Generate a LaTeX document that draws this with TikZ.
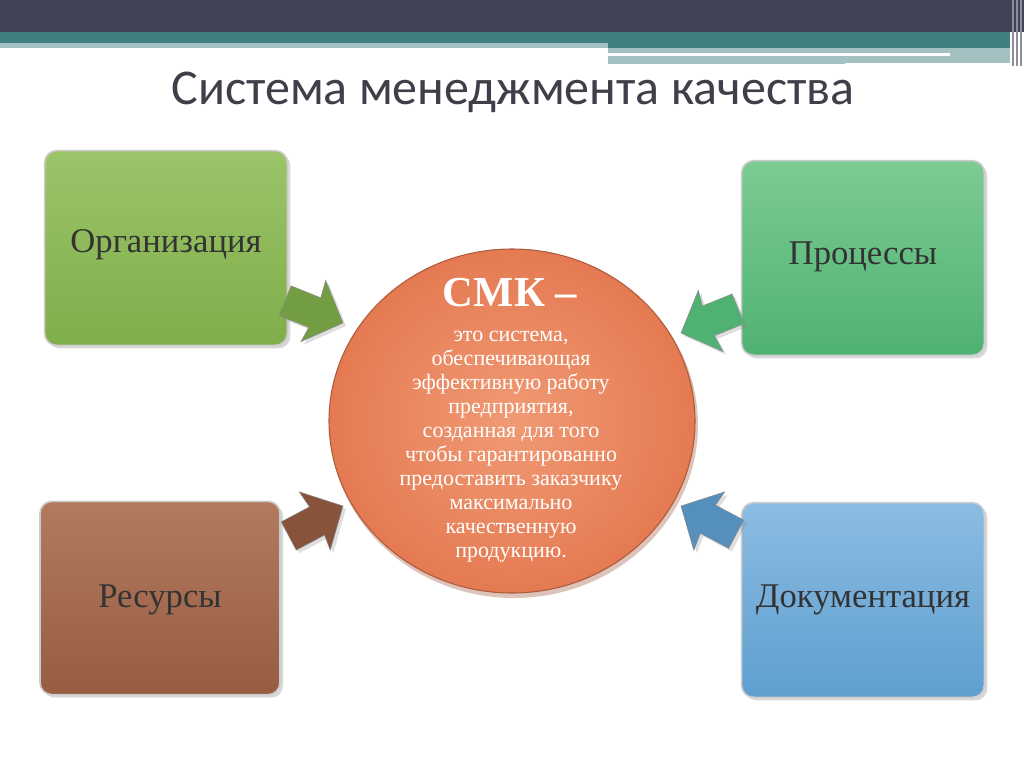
\documentclass[tikz,border=0pt]{standalone}
\usepackage{fontspec}
\setmainfont{Liberation Serif}
\newfontfamily\titlefont{Carlito}
\usetikzlibrary{shadows}
\definecolor{darkbar}{HTML}{404255}
\definecolor{tealbar}{HTML}{3F7F80}
\definecolor{paleteal}{HTML}{A3C0C2}
\definecolor{gOrg}{HTML}{7FAE4A}
\definecolor{gOrgL}{HTML}{9CC469}
\definecolor{gProc}{HTML}{4FB272}
\definecolor{gProcL}{HTML}{7CCB93}
\definecolor{bRes}{HTML}{975C42}
\definecolor{bResL}{HTML}{B27B60}
\definecolor{bDoc}{HTML}{5E9FD0}
\definecolor{bDocL}{HTML}{8CBCE2}
\definecolor{circ}{HTML}{E57A52}
\definecolor{circL}{HTML}{F09A74}
\definecolor{titlec}{HTML}{3F3F4A}
\begin{document}
\begin{tikzpicture}[x=0.75pt,y=-0.75pt,
  boxs/.style={rounded corners=9pt,draw=white!80!black,line width=1.2pt,drop shadow={opacity=0.3}},
  btext/.style={font=\fontsize{26}{30}\selectfont,text=black!80},
  arr/.style={draw=white!55!black,line width=0.4pt,drop shadow={opacity=0.25}}]
\useasboundingbox (0,0) rectangle (1024,767);
\fill[white] (0,0) rectangle (1024,767);
% top bars
\fill[darkbar] (0,0) rectangle (1024,32);
\fill[tealbar] (0,32) rectangle (1010,48);
\fill[paleteal] (0,43) rectangle (608,48);
\fill[paleteal] (608,48) rectangle (1010,64);
\fill[white] (608,53) rectangle (950,56);
\fill[white] (845,63) rectangle (1010,66);
\foreach \xx in {1012,1016,1020} \fill[darkbar!60] (\xx,0) rectangle (\xx+1.5,66);
\node[font=\titlefont\fontsize{37.5}{40}\selectfont,text=titlec] (title) at (513,92) {Система менеджмента качества};
% boxes
\node[boxs,top color=gOrgL,bottom color=gOrg,minimum width=182pt,minimum height=146pt] (org) at (166,248) {};
\node[btext] at (166,245) {Организация};
\node[boxs,top color=gProcL,bottom color=gProc,minimum width=182pt,minimum height=146pt] (proc) at (863,258) {};
\node[btext] at (863,257) {Процессы};
\node[boxs,top color=bResL,bottom color=bRes,minimum width=180pt,minimum height=145pt] (res) at (160,598) {};
\node[btext] at (160,600) {Ресурсы};
\node[boxs,top color=bDocL,bottom color=bDoc,minimum width=182pt,minimum height=146pt] (doc) at (863,600) {};
\node[btext] at (863,600) {Документация};
% block arrows (local shape, tip at origin)
\foreach \px/\py/\ang/\col in {343/323/-22/gOrg!90!black, 681/333/202/gProc, 343/506/28/bRes!90!black, 681/506/152/bDoc!90!black}{
  \begin{scope}[shift={(\px,\py)},rotate=\ang]
    \filldraw[arr,fill=\col] (0,0) -- (-32,-33) -- (-30,-15) -- (-62,-15) -- (-62,17) -- (-30,17) -- (-32,33) -- cycle;
  \end{scope}}
% circle
\fill[circ!70!black,opacity=0.35] (514,425) ellipse [x radius=184,y radius=173];
\shade[inner color=circL,outer color=circ,draw=circ!75!black,line width=0.8pt] (512,421) ellipse [x radius=183,y radius=172];
\node[font=\bfseries\fontsize{32}{34}\selectfont,text=white] (smk) at (510,293) {СМК –};
\node[font=\fontsize{16.5}{18}\selectfont,text=white,align=center] (def) at (511,447) {это система,\\обеспечивающая\\эффективную работу\\предприятия,\\созданная для того\\чтобы гарантированно\\предоставить заказчику\\максимально\\качественную\\продукцию.};
\end{tikzpicture}
\end{document}
